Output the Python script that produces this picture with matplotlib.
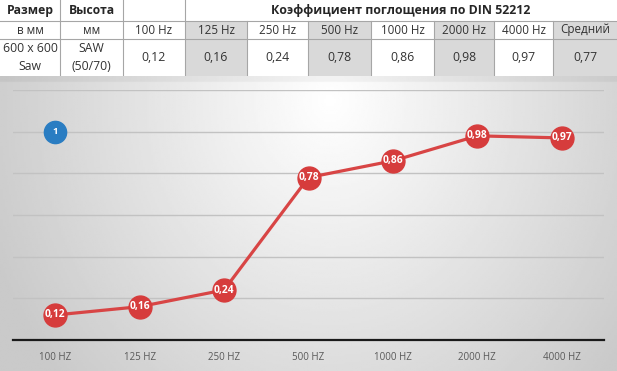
import matplotlib.pyplot as plt
import numpy as np
from matplotlib.patches import Rectangle

plt.rcParams["font.family"] = ["Open Sans", "DejaVu Sans"]

# data
freqs = ["100 HZ", "125 HZ", "250 HZ", "500 HZ", "1000 HZ", "2000 HZ", "4000 HZ"]
alpha = [0.12, 0.16, 0.24, 0.78, 0.86, 0.98, 0.97]
labels = ["0,12", "0,16", "0,24", "0,78", "0,86", "0,98", "0,97"]

head_left = ["Размер", "Высота", ""]
head_title = "Коэффициент поглощения по DIN 52212"
row2 = ["в мм", "мм", "100 Hz", "125 Hz", "250 Hz", "500 Hz", "1000 Hz",
        "2000 Hz", "4000 Hz", "Средний"]
row3 = ["600 x 600\nSaw", "SAW\n(50/70)", "0,12", "0,16", "0,24", "0,78",
        "0,86", "0,98", "0,97", "0,77"]
shaded = [3, 5, 7, 9]

badge_x, badge_y, badge_text = 0, 1.0, "1"

W, H = 617, 371
fig = plt.figure(figsize=(W / 100, H / 100), dpi=100)

# gradient background for the chart part
bg = fig.add_axes([0, 0, 1, (H - 76) / H])
xx, yy = np.meshgrid(np.linspace(0, W, 300), np.linspace(76, H, 150))
d = np.sqrt(((xx - 330) / 330) ** 2 + ((yy - 100) / 380) ** 2)
val = 1 - 0.19 * np.clip(d, 0, 1.1)
val[yy < 81] -= 0.04
bg.imshow(val, cmap="gray", vmin=0, vmax=1, aspect="auto",
          extent=[0, W, H, 76])
bg.axis("off")

# table (pixel coordinates)
tb = fig.add_axes([0, 1 - 76 / H, 1, 76 / H])
tb.set_xlim(0, W)
tb.set_ylim(76, 0)
tb.axis("off")
cols = [0, 60, 123, 185, 247, 308, 371, 434, 494, 553, 617]
rows = [0, 21, 39, 76]
lc = "#a6a6a6"
for i in shaded:
    tb.add_patch(Rectangle((cols[i], rows[1]), cols[i + 1] - cols[i],
                           rows[3] - rows[1], color="#d9d9d9", lw=0))
tb.plot([0, W], [rows[1], rows[1]], color=lc, lw=0.8)
tb.plot([0, W], [rows[2], rows[2]], color=lc, lw=0.8)
for i, c in enumerate(cols[1:-1], start=1):
    top = 0 if i <= 3 else rows[1]
    tb.plot([c, c], [top, rows[3]], color=lc, lw=0.8)

txt = "#262626"
for i, t in enumerate(head_left):
    tb.text((cols[i] + cols[i + 1]) / 2, 10.5, t, ha="center", va="center",
            fontsize=8.7, fontweight="bold", color=txt)
tb.text((cols[3] + cols[-1]) / 2, 10.5, head_title, ha="center", va="center",
        fontsize=8.9, fontweight="bold", color=txt)
for i, t in enumerate(row2):
    tb.text((cols[i] + cols[i + 1]) / 2, 30, t, ha="center", va="center",
            fontsize=8.4, color="#333333")
for i, t in enumerate(row3):
    tb.text((cols[i] + cols[i + 1]) / 2, 57.5, t, ha="center", va="center",
            fontsize=8.8, color="#333333", linespacing=1.5)

# line chart
ax = fig.add_axes([13 / W, (H - 340) / H, 591 / W, 250 / H])
ax.patch.set_alpha(0)
x = np.arange(len(freqs))
ax.plot(x, alpha, color="#d84545", lw=2.3, marker="o", ms=16.5,
        markerfacecolor="#d63c3c", markeredgecolor="#d63c3c", zorder=3)
for xi, yi, lab in zip(x, alpha, labels):
    ax.text(xi, yi, lab, ha="center", va="center", color="white",
            fontsize=7.4, fontweight="bold", zorder=4)
ax.plot([badge_x], [badge_y], "o", ms=16, color="#2a7dc2", zorder=3)
ax.text(badge_x, badge_y, badge_text, ha="center", va="center",
        color="white", fontsize=6.8, fontweight="bold", zorder=4)

ax.set_xlim(-0.5, len(freqs) - 0.5)
ax.set_ylim(0, 1.2)
ax.set_yticks(np.arange(0.2, 1.21, 0.2))
ax.yaxis.grid(True, color="#c2c2c2", lw=1)
ax.set_axisbelow(True)
ax.tick_params(axis="y", left=False, labelleft=False)
ax.set_xticks(x)
ax.set_xticklabels(freqs, fontsize=7, color="#595959")
ax.tick_params(axis="x", length=0, pad=9)
for s in ["top", "right", "left"]:
    ax.spines[s].set_visible(False)
ax.spines["bottom"].set_color("#1a1a1a")
ax.spines["bottom"].set_linewidth(1.6)

fig.savefig("out.png", dpi=100)
